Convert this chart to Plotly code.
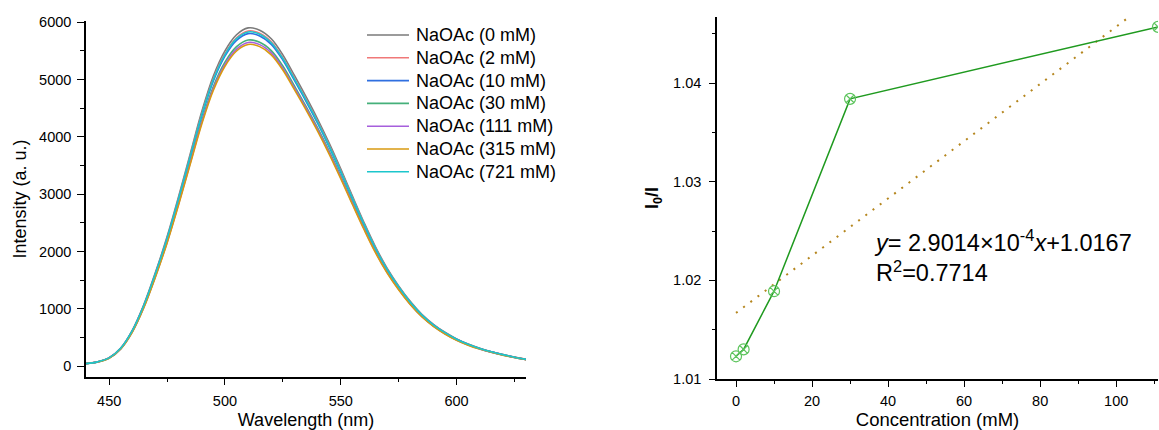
import plotly.graph_objects as go

# ---- Emission spectra (intensity, a.u.) sampled every 5 nm ----
wavelength = list(range(440, 631, 5))

i_0mM = [45, 75, 145, 315, 625, 1075, 1635, 2255, 2960, 3700, 4440, 5060, 5500, 5780,
         5900, 5860, 5710, 5430, 5070, 4700, 4310, 3890, 3440, 2970, 2510, 2080, 1710,
         1400, 1130, 905, 730, 590, 475, 385, 312, 252, 202, 158, 118]
i_2mM = [45, 74, 144, 312, 619, 1065, 1620, 2235, 2933, 3667, 4400, 5014, 5451, 5728,
         5847, 5807, 5659, 5381, 5024, 4658, 4271, 3855, 3409, 2943, 2487, 2061, 1695,
         1387, 1120, 897, 723, 585, 471, 382, 309, 250, 200, 157, 117]
i_10mM = [44, 74, 143, 310, 614, 1057, 1607, 2217, 2910, 3637, 4365, 4974, 5407, 5682,
          5800, 5760, 5613, 5338, 4984, 4620, 4237, 3824, 3382, 2920, 2467, 2045, 1681,
          1376, 1111, 890, 718, 580, 467, 378, 307, 248, 199, 155, 116]
i_30mM = [43, 72, 140, 304, 603, 1036, 1576, 2174, 2853, 3567, 4280, 4878, 5302, 5572,
          5688, 5649, 5504, 5235, 4887, 4531, 4155, 3750, 3316, 2863, 2420, 2005, 1648,
          1350, 1089, 872, 704, 569, 458, 371, 301, 243, 195, 152, 114]
i_111mM = [43, 72, 139, 301, 598, 1029, 1565, 2158, 2833, 3541, 4249, 4842, 5264, 5531,
           5646, 5608, 5464, 5197, 4852, 4498, 4125, 3723, 3292, 2842, 2402, 1991, 1636,
           1340, 1081, 866, 699, 565, 455, 368, 299, 241, 193, 151, 113]
i_315mM = [43, 71, 138, 300, 594, 1022, 1555, 2145, 2815, 3519, 4222, 4812, 5231, 5497,
           5611, 5573, 5430, 5164, 4822, 4470, 4099, 3699, 3271, 2824, 2387, 1978, 1626,
           1331, 1075, 861, 694, 561, 452, 366, 297, 240, 192, 150, 112]
i_721mM = [44, 74, 143, 311, 618, 1062, 1615, 2228, 2924, 3656, 4387, 4999, 5434, 5711,
           5829, 5790, 5641, 5365, 5009, 4644, 4258, 3843, 3399, 2934, 2480, 2055, 1689,
           1383, 1116, 894, 721, 583, 469, 380, 308, 249, 200, 156, 117]

spectra_labels = ["NaOAc (0 mM)", "NaOAc (2 mM)", "NaOAc (10 mM)", "NaOAc (30 mM)",
                  "NaOAc (111 mM)", "NaOAc (315 mM)", "NaOAc (721 mM)"]
spectra_colors = ["#7a7a7a", "#f07878", "#2f6fe0", "#45b07a", "#a65fdc", "#d89a10", "#1cc6cc"]
spectra = [i_0mM, i_2mM, i_10mM, i_30mM, i_111mM, i_315mM, i_721mM]

# ---- Stern-Volmer data ----
conc_mM = [0, 2, 10, 30, 111]
i0_over_i = [1.0123, 1.0130, 1.0189, 1.0384, 1.0457]
fit_slope = 2.9014e-4
fit_intercept = 1.0167
fit_r2 = 0.7714
fit_x = [0, 111]

FONT = "Liberation Sans, Arial, sans-serif"
W, H = 1159, 430

fig = go.Figure()

for lab, col, ys in zip(spectra_labels, spectra_colors, spectra):
    fig.add_trace(go.Scatter(x=wavelength, y=ys, name=lab, mode="lines",
                             line=dict(color=col, width=1.6, shape="spline"),
                             showlegend=False, xaxis="x", yaxis="y"))

fig.add_trace(go.Scatter(x=fit_x, y=[fit_slope * v + fit_intercept for v in fit_x],
                         mode="lines", showlegend=False,
                         line=dict(color="#b5861e", width=2, dash="2px,7px"),
                         xaxis="x2", yaxis="y2"))
fig.add_trace(go.Scatter(x=conc_mM, y=i0_over_i, mode="lines+markers", showlegend=False,
                         line=dict(color="#1f9a1f", width=1.5),
                         marker=dict(symbol="circle-x-open", size=11,
                                     color="#5cc45c", line=dict(width=1.2)),
                         xaxis="x2", yaxis="y2"))

# Compact key for the spectra: a short line sample plus label per series
shapes = []
annotations = []
key_x0, key_x1, key_text_x = 367, 409, 414
key_y0, key_dy = 35, 22.8
for k, (lab, col) in enumerate(zip(spectra_labels, spectra_colors)):
    yk = (H - (key_y0 + k * key_dy)) / H
    shapes.append(dict(type="line", xref="paper", yref="paper",
                       x0=key_x0 / W, x1=key_x1 / W, y0=yk, y1=yk,
                       line=dict(color=col, width=1.6)))
    annotations.append(dict(text=lab, xref="paper", yref="paper", x=key_text_x / W, y=yk,
                            xanchor="left", yanchor="middle", showarrow=False,
                            font=dict(family=FONT, size=18, color="black")))

annotations.append(dict(
    text=(f"<i>y</i>= {fit_slope / 1e-4:.4f}×10<sup>-4</sup><i>x</i>+{fit_intercept:.4f}"
          f"<br>R<sup>2</sup>={fit_r2:.4f}"),
    xref="paper", yref="paper", x=872 / W, y=(H - 256) / H,
    xanchor="left", yanchor="middle", align="left", showarrow=False,
    font=dict(family=FONT, size=23.5, color="black")))

axis_common = dict(showline=True, linecolor="black", linewidth=1.5, ticks="outside",
                   tickcolor="black", tickwidth=1.3, showgrid=False, zeroline=False,
                   mirror=False, automargin=False,
                   tickfont=dict(family=FONT, size=14.5, color="black"))

fig.update_layout(
    template="none",
    width=W, height=H,
    margin=dict(l=0, r=0, t=0, b=0, autoexpand=False),
    paper_bgcolor="white", plot_bgcolor="white",
    font=dict(family=FONT, color="black"),
    showlegend=False,
    xaxis=dict(domain=[86 / W, 526 / W], range=[440, 630], anchor="y",
               tickvals=[450, 500, 550, 600], ticklen=6, ticklabelstandoff=4,
               minor=dict(tickvals=[475, 525, 575, 625], ticklen=3, ticks="outside",
                          tickcolor="black", tickwidth=1.3),
               title=dict(text="Wavelength (nm)", font=dict(size=18), standoff=6),
               **axis_common),
    yaxis=dict(domain=[(H - 377) / H, (H - 21) / H], range=[-190, 6020], anchor="x",
               tickvals=[0, 1000, 2000, 3000, 4000, 5000, 6000], ticklen=7,
               ticklabelstandoff=3,
               minor=dict(dtick=500, ticklen=4, ticks="outside",
                          tickcolor="black", tickwidth=1.3),
               title=dict(text="Intensity (a. u.)", font=dict(size=18), standoff=8),
               **axis_common),
    xaxis2=dict(domain=[717 / W, 1158 / W], range=[-5, 111], anchor="y2",
                tickvals=[0, 20, 40, 60, 80, 100], ticklen=6, ticklabelstandoff=2,
                minor=dict(tickvals=[10, 30, 50, 70, 90, 110], ticklen=3, ticks="outside",
                           tickcolor="black", tickwidth=1.3),
                title=dict(text="Concentration (mM)", font=dict(size=18.5), standoff=7),
                **axis_common),
    yaxis2=dict(domain=[(H - 379) / H, (H - 17) / H], range=[1.01, 1.0467], anchor="x2",
                tickvals=[1.01, 1.02, 1.03, 1.04], tickformat=".2f", ticklen=6,
                ticklabelstandoff=5,
                minor=dict(tickvals=[1.015, 1.025, 1.035, 1.045], ticklen=3,
                           ticks="outside", tickcolor="black", tickwidth=1.3),
                title=dict(text="<b>I<sub>0</sub>/I</b>", font=dict(size=18), standoff=10),
                **axis_common),
    shapes=shapes,
    annotations=annotations,
)

fig.write_html("out.html")
